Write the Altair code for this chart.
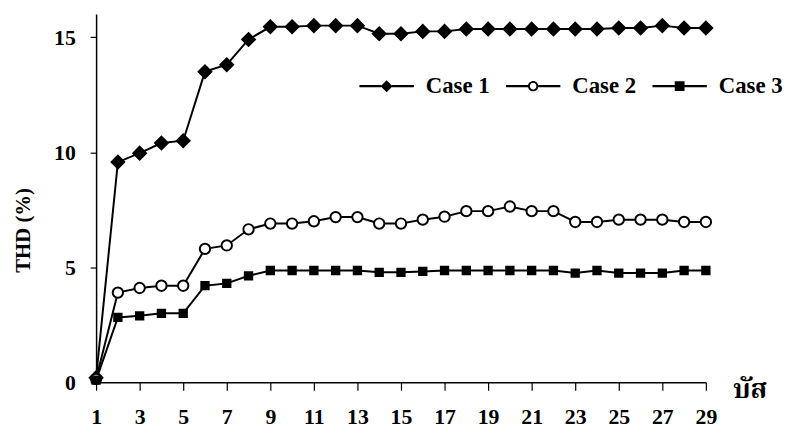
import altair as alt
import pandas as pd

bus = list(range(1, 30))
case1 = [0.2, 9.57, 9.96, 10.4, 10.5, 13.5, 13.8, 14.9, 15.45, 15.45, 15.5, 15.5, 15.5, 15.15, 15.15,
         15.25, 15.25, 15.35, 15.35, 15.35, 15.35, 15.35, 15.35, 15.35, 15.4, 15.4, 15.5, 15.4, 15.4]
case2 = [0.15, 3.9, 4.1, 4.2, 4.2, 5.8, 5.95, 6.65, 6.9, 6.9, 7.0, 7.18, 7.18, 6.9, 6.9,
         7.07, 7.2, 7.44, 7.44, 7.64, 7.44, 7.44, 6.97, 6.97, 7.07, 7.07, 7.07, 6.97, 6.97]
case3 = [0.1, 2.82, 2.89, 3.0, 3.0, 4.2, 4.3, 4.63, 4.86, 4.86, 4.86, 4.86, 4.86, 4.78, 4.78,
         4.82, 4.86, 4.86, 4.86, 4.86, 4.86, 4.86, 4.75, 4.86, 4.75, 4.75, 4.75, 4.86, 4.86]
cases = ["Case 1", "Case 2", "Case 3"]
x_ticks = list(range(1, 30, 2))
y_ticks = [0, 5, 10, 15]

rows = []
for name, vals in zip(cases, [case1, case2, case3]):
    for b, v in zip(bus, vals):
        rows.append({"bus": b, "thd": v, "case": name})
df = pd.DataFrame(rows)

SERIF = "Times New Roman, Liberation Serif, DejaVu Serif, serif"

# legend symbols: line - marker - line, all filled black
leg_diamond = ("M-1,-0.04H-0.2V0.04H-1Z M0.2,-0.04H1V0.04H0.2Z "
               "M0,-0.22L0.22,0L0,0.22L-0.22,0Z")
leg_circle = ("M-1,-0.04H-0.19V0.04H-1Z M0.19,-0.04H1V0.04H0.19Z "
              "M-0.19,0A0.19,0.19 0 1,0 0.19,0A0.19,0.19 0 1,0 -0.19,0Z "
              "M-0.12,0A0.12,0.12 0 1,1 0.12,0A0.12,0.12 0 1,1 -0.12,0Z")
leg_square = ("M-1,-0.04H-0.18V0.04H-1Z M0.18,-0.04H1V0.04H0.18Z "
              "M-0.18,-0.18H0.18V0.18H-0.18Z")

x_enc = alt.X("bus:Q",
              scale=alt.Scale(domain=[1, 29], nice=False, zero=False),
              axis=alt.Axis(values=x_ticks, title="บัส", grid=False,
                            labelFont=SERIF, labelFontSize=22, labelFontWeight="bold",
                            labelColor="black", labelPadding=17,
                            tickSize=8, tickColor="black", tickWidth=1.2,
                            domainColor="black", domainWidth=1.5,
                            titleFont="Noto Serif Thai, Noto Sans Thai, Loma, Garuda, serif",
                            titleFontSize=27, titleFontWeight="bold", titleColor="black",
                            titleX=643, titleY=7, titleAlign="left", titleBaseline="middle",
                            labelFlush=False, labelOverlap=False))
y_enc = alt.Y("thd:Q",
              scale=alt.Scale(domain=[0, 16], nice=False),
              axis=alt.Axis(values=y_ticks, title="THD (%)", grid=False,
                            labelFont=SERIF, labelFontSize=22, labelFontWeight="bold",
                            labelColor="black", labelPadding=15,
                            tickSize=6, tickColor="black", tickWidth=1.2,
                            domainColor="black", domainWidth=1.5,
                            titleFont=SERIF, titleFontSize=21, titleFontWeight="bold",
                            titleColor="black", titleX=-73, titleY=218,
                            titleAngle=270, titleAlign="center", titleBaseline="middle"))

base = alt.Chart(df)

lines = base.mark_line(color="black", strokeWidth=2).encode(
    x=x_enc, y=y_enc, detail="case:N")

points = base.mark_point(filled=True, strokeWidth=2, stroke="black", opacity=1).encode(
    x="bus:Q", y="thd:Q",
    shape=alt.Shape("case:N", scale=alt.Scale(domain=cases, range=["diamond", "circle", "square"]),
                    legend=None),
    fill=alt.Fill("case:N", scale=alt.Scale(domain=cases, range=["black", "white", "black"]),
                  legend=None),
    size=alt.Size("case:N", scale=alt.Scale(domain=cases, range=[165, 55, 90]), legend=None),
)

legend_layer = base.mark_point(filled=True, color="black", opacity=0).encode(
    x="bus:Q", y="thd:Q",
    strokeOpacity=alt.value(0),
    shape=alt.Shape("case:N",
                    scale=alt.Scale(domain=cases, range=[leg_diamond, leg_circle, leg_square]),
                    legend=alt.Legend(title=None, orient="none", direction="horizontal",
                                      legendX=266, legendY=45,
                                      symbolSize=3025, symbolFillColor="black",
                                      symbolStrokeWidth=0, symbolOpacity=1,
                                      labelFont=SERIF, labelFontSize=23, labelFontWeight="bold",
                                      labelColor="black", labelOffset=12, columnPadding=16,
                                      labelLimit=200)),
)

chart = alt.layer(lines, points, legend_layer).resolve_scale(
    shape="independent"
).properties(
    width=616, height=372,
    autosize=alt.AutoSizeParams(type="none"),
    padding={"left": 89, "top": 4, "right": 87, "bottom": 52},
    background="white",
).configure_view(stroke=None)

chart.save("out.html", embed_options={"renderer": "svg", "actions": False})
